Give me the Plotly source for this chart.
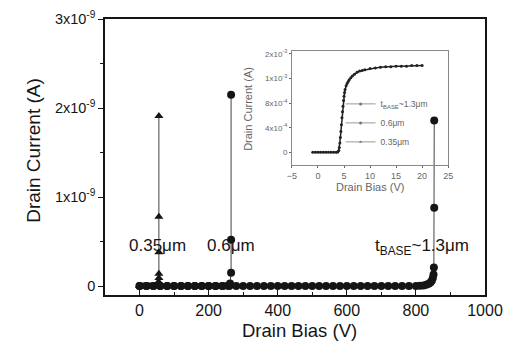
import plotly.graph_objects as go

# ---- main chart data (Drain Bias in V, Drain Current in A) ----
x_13 = [0, 20, 40, 60, 80, 100, 120, 140, 160, 180, 200, 220, 240, 260, 280, 300,
        320, 340, 360, 380, 400, 420, 440, 460, 480, 500, 520, 540, 560, 580, 600,
        620, 640, 660, 680, 700, 720, 740, 760, 780, 800, 812, 822, 830, 837, 842,
        846, 849, 851, 852, 853, 853]
y_13 = [0, 0, 0, 0, 0, 0, 0, 0, 0, 0, 0, 0, 0, 0, 0, 0,
        0, 0, 0, 0, 0, 0, 0, 0, 0, 0, 0, 0, 0, 0, 0,
        0, 0, 0, 0, 0, 0, 0, 0, 0, 0, 0.004e-9, 0.008e-9, 0.015e-9, 0.025e-9, 0.04e-9,
        0.06e-9, 0.09e-9, 0.13e-9, 0.21e-9, 0.88e-9, 1.86e-9]

x_06 = [0, 20, 40, 60, 80, 100, 120, 140, 160, 180, 200, 220, 240, 255, 262, 265, 265, 265]
y_06 = [0, 0, 0, 0, 0, 0, 0, 0, 0, 0, 0, 0, 0, 0.005e-9, 0.03e-9, 0.15e-9, 0.52e-9, 2.15e-9]

x_035 = [0, 10, 20, 30, 40, 48, 52, 55, 56, 56, 56, 56, 56]
y_035 = [0, 0, 0, 0, 0, 0.005e-9, 0.02e-9, 0.05e-9, 0.09e-9, 0.14e-9, 0.38e-9, 0.78e-9, 1.91e-9]

y_tickvals = [0, 1e-9, 2e-9, 3e-9]
y_ticktext = ["0", "1x10<sup>-9</sup>", "2x10<sup>-9</sup>", "3x10<sup>-9</sup>"]
x_tickvals = [0, 200, 400, 600, 800, 1000]

# ---- inset data (Drain Bias in V, Drain Current in A) ----
xi = [-1, -0.5, 0, 0.5, 1, 1.5, 2, 2.5, 3, 3.5, 3.8, 4.0, 4.1, 4.2, 4.3, 4.4, 4.5, 4.6,
      4.7, 4.8, 4.9, 5.0, 5.1, 5.2, 5.4, 5.6, 5.8, 6.0, 6.3, 6.6, 7.0, 7.5, 8, 8.5, 9,
      10, 11, 12, 13, 14, 15, 16, 17, 18, 19, 20]
yi = [0, 0, 0, 0, 0, 0, 0, 0, 0, 0, 0.005e-3, 0.03e-3, 0.08e-3, 0.15e-3, 0.24e-3, 0.34e-3,
      0.45e-3, 0.56e-3, 0.66e-3, 0.75e-3, 0.84e-3, 0.91e-3, 0.97e-3, 1.02e-3, 1.08e-3,
      1.12e-3, 1.15e-3, 1.18e-3, 1.21e-3, 1.24e-3, 1.27e-3, 1.30e-3, 1.32e-3, 1.33e-3,
      1.34e-3, 1.36e-3, 1.37e-3, 1.38e-3, 1.39e-3, 1.39e-3, 1.40e-3, 1.40e-3, 1.40e-3,
      1.41e-3, 1.41e-3, 1.41e-3]
yi_tickvals = [0, 4e-4, 8e-4, 1.2e-3, 1.6e-3]
yi_ticktext = ["0", "4x10<sup>-4</sup>", "8x10<sup>-4</sup>", "1x10<sup>-3</sup>", "2x10<sup>-3</sup>"]
xi_tickvals = [-5, 0, 5, 10, 15, 20, 25]
legend_names = ["t<sub>BASE</sub>~1.3\u03bcm", "0.6\u03bcm", "0.35\u03bcm"]

FONT = "Liberation Sans, Arial, sans-serif"
INK = "#151515"
GRAY = "#666666"

fig = go.Figure()
fig.add_trace(go.Scatter(x=x_13, y=y_13, mode="lines+markers", showlegend=False,
                         line=dict(color="#444", width=1), marker=dict(symbol="circle", size=8, color=INK)))
fig.add_trace(go.Scatter(x=x_06, y=y_06, mode="lines+markers", showlegend=False,
                         line=dict(color="#444", width=1), marker=dict(symbol="circle", size=8, color=INK)))
fig.add_trace(go.Scatter(x=x_035, y=y_035, mode="lines+markers", showlegend=False,
                         line=dict(color="#444", width=1), marker=dict(symbol="triangle-up", size=8, color=INK)))
fig.add_trace(go.Scatter(x=xi, y=yi, mode="lines+markers", xaxis="x2", yaxis="y2", showlegend=False,
                         line=dict(color="#222", width=1.5), marker=dict(size=3, color="#222")))
for nm, sym in zip(legend_names, ["circle", "circle", "triangle-up"]):
    fig.add_trace(go.Scatter(x=[None], y=[None], mode="lines+markers", name=nm, xaxis="x2", yaxis="y2",
                             line=dict(color="#999", width=1), marker=dict(symbol=sym, size=3, color="#777")))

# The page body has an 8px margin: size the figure so the whole page fits the 511x353 window.
fig.update_layout(
    width=495, height=337,
    margin=dict(l=97, r=18, t=11, b=50),
    paper_bgcolor="white", plot_bgcolor="rgba(0,0,0,0)",
    font=dict(family=FONT, color=INK),
    xaxis=dict(range=[-100, 1000], tickvals=x_tickvals, ticks="inside", ticklen=6, tickcolor=INK,
               minor=dict(dtick=100, ticks="inside", ticklen=3, tickcolor=INK), automargin=False,
               ticklabeloverflow="allow",
               showline=True, linecolor=INK, linewidth=1.5, mirror=True, showgrid=False, zeroline=False,
               tickfont=dict(size=16, color=INK), domain=[0, 1]),
    yaxis=dict(range=[-0.1e-9, 3e-9], tickvals=y_tickvals, ticktext=y_ticktext, ticks="outside", ticklen=5,
               tickcolor=INK, minor=dict(dtick=0.5e-9, ticks="outside", ticklen=3, tickcolor=INK),
               automargin=False, ticklabeloverflow="allow",
               showline=True, linecolor=INK, linewidth=1.5, mirror=True, showgrid=False, zeroline=False,
               tickfont=dict(size=14.5, color=INK), domain=[0, 1]),
    xaxis2=dict(domain=[0.492, 0.903], anchor="y2", range=[-5, 25], tickvals=xi_tickvals, ticks="outside",
                ticklen=2, tickcolor=GRAY, showline=True, linecolor="#888", linewidth=1, mirror=True,
                automargin=False,
                showgrid=False, zeroline=False, tickfont=dict(size=9, color=GRAY)),
    yaxis2=dict(domain=[0.47, 0.885], anchor="x2", range=[-0.21e-3, 1.65e-3], tickvals=yi_tickvals,
                ticktext=yi_ticktext, ticks="outside", ticklen=2, tickcolor=GRAY, showline=True,
                automargin=False,
                linecolor="#888", linewidth=1, mirror=True, showgrid=False, zeroline=False,
                tickfont=dict(size=8, color=GRAY)),
    legend=dict(x=0.62, y=0.745, xanchor="left", yanchor="top", bgcolor="rgba(0,0,0,0)",
                font=dict(size=8.5, color=GRAY), itemwidth=30, tracegroupgap=0),
    showlegend=True,
)

C = dict(xanchor="center", yanchor="middle", showarrow=False)
ann = [
    dict(text="Drain Current (A)", xref="paper", yref="paper", x=-0.189, y=0.523, textangle=-90,
         font=dict(size=19, color=INK), **C),
    dict(text="Drain Bias (V)", xref="paper", yref="paper", x=0.513, y=-0.128,
         font=dict(size=18.5, color=INK), **C),
    dict(text="0.35\u03bcm", xref="x", yref="y", x=51, y=0.46e-9, font=dict(size=17, color=INK), **C),
    dict(text="0.6\u03bcm", xref="x", yref="y", x=265, y=0.46e-9, font=dict(size=17, color=INK), **C),
    dict(text="t<sub>BASE</sub>~1.3\u03bcm", xref="x", yref="y", x=818, y=0.44e-9,
         font=dict(size=17, color=INK), **C),
    dict(text="Drain Current (A)", xref="paper", yref="paper", x=0.376, y=0.674, textangle=-90,
         font=dict(size=11, color=GRAY), **C),
    dict(text="Drain Bias (V)", xref="paper", yref="paper", x=0.697, y=0.392,
         font=dict(size=11, color=GRAY), **C),
]
fig.update_layout(annotations=ann)

fig.write_html("out.html")
